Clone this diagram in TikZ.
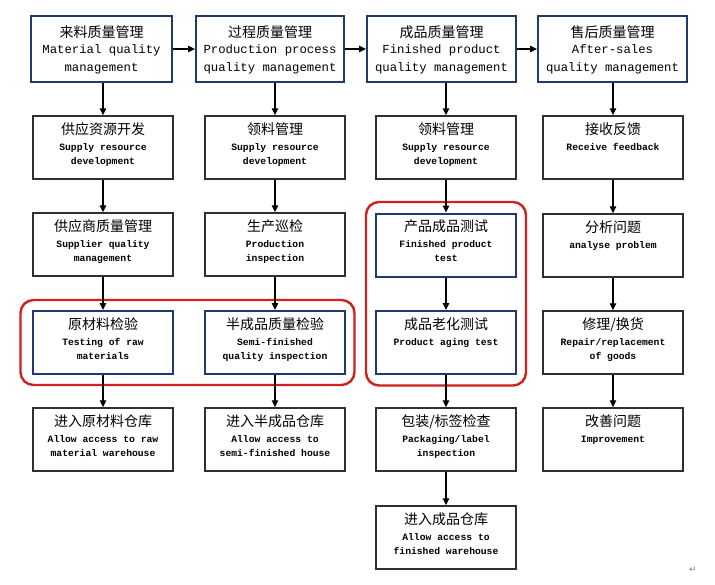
\documentclass[tikz,border=0pt]{standalone}
\usepackage{fontspec}
\setmainfont{Liberation Serif}
\newfontfamily\cjk{Noto Sans CJK SC}
\newfontfamily\en{Liberation Mono}
\newfontfamily\dv{DejaVu Sans}
\usetikzlibrary{arrows.meta,fit}
\definecolor{navy}{HTML}{1F3A6E}
\definecolor{redline}{HTML}{D02020}
\definecolor{boxline}{HTML}{303030}
\newcommand\toptext[3][140pt]{\begin{minipage}[c][66pt][t]{#1}\centering\lineskiplimit=-100pt
{\cjk\fontsize{14}{16}\selectfont\rule{0pt}{21pt}#2\par}\vspace{-1.5pt}
{\en\fontsize{12.3}{18}\selectfont #3\par}\end{minipage}}
\newcommand\rowtext[2]{\begin{minipage}[c][63pt][t]{136pt}\centering\lineskiplimit=-100pt
{\cjk\fontsize{14}{16}\selectfont\rule{0pt}{18pt}#1\par}\vspace{2pt}
{\en\bfseries\fontsize{9.7}{14.2}\selectfont #2\par}\end{minipage}}
\tikzset{
  topbox/.style={draw=navy, line width=2pt, inner sep=0pt, minimum height=66pt},
  bluebox/.style={draw=navy, line width=2pt, inner sep=0pt, minimum width=140pt, minimum height=63pt},
  plainbox/.style={draw=boxline, line width=1.5pt, inner sep=0pt, minimum width=140pt, minimum height=63pt},
  arr/.style={draw=black, line width=1.3pt, -{Triangle[length=7pt,width=6.5pt]}},
  redbox/.style={draw=redline, line width=2.4pt, rounded corners=13pt, inner sep=0pt}
}
\begin{document}
\begin{tikzpicture}[x=1pt,y=-1pt]
\fill[white] (0,0) rectangle (715,584);
\useasboundingbox (0,0) rectangle (715,584);
% top row
\node[topbox, minimum width=141pt] (t1) at (101.5,49) {\toptext[139pt]{来料质量管理}{Material quality\\management}};
\node[topbox, minimum width=148pt] (t2) at (270,49) {\toptext[146pt]{过程质量管理}{Production process\\quality management}};
\node[topbox, minimum width=149pt] (t3) at (441.5,49) {\toptext[146pt]{成品质量管理}{Finished product\\quality management}};
\node[topbox, minimum width=149pt] (t4) at (612.5,49) {\toptext[146pt]{售后质量管理}{After-sales\\quality management}};
% row 2
\node[plainbox] (a2) at (103,147.5) {\rowtext{供应资源开发}{Supply resource\\development}};
\node[plainbox] (b2) at (275,147.5) {\rowtext{领料管理}{Supply resource\\development}};
\node[plainbox] (c2) at (446,147.5) {\rowtext{领料管理}{Supply resource\\development}};
\node[plainbox] (d2) at (613,147.5) {\rowtext{接收反馈}{Receive feedback}};
% row 3
\node[plainbox] (a3) at (103,244.5) {\rowtext{供应商质量管理}{Supplier quality\\management}};
\node[plainbox] (b3) at (275,244.5) {\rowtext{生产巡检}{Production\\inspection}};
\node[bluebox] (c3) at (446,245) {\rowtext{产品成品测试}{Finished product\\test}};
\node[plainbox] (d3) at (613,245.5) {\rowtext{分析问题}{analyse problem}};
% row 4
\node[bluebox] (a4) at (103,342.5) {\rowtext{原材料检验}{Testing of raw\\materials}};
\node[bluebox] (b4) at (275,342.5) {\rowtext{半成品质量检验}{Semi-finished\\quality inspection}};
\node[bluebox] (c4) at (446,342.5) {\rowtext{成品老化测试}{Product aging test}};
\node[plainbox] (d4) at (613,342.5) {\rowtext{修理/换货}{Repair/replacement\\of goods}};
% row 5
\node[plainbox] (a5) at (103,439.5) {\rowtext{进入原材料仓库}{Allow access to raw\\material warehouse}};
\node[plainbox] (b5) at (275,439.5) {\rowtext{进入半成品仓库}{Allow access to\\semi-finished house}};
\node[plainbox] (c5) at (446,439.5) {\rowtext{包装/标签检查}{Packaging/label\\inspection}};
\node[plainbox] (d5) at (613,439.5) {\rowtext{改善问题}{Improvement}};
% row 6
\node[plainbox] (c6) at (446,537.5) {\rowtext{进入成品仓库}{Allow access to\\finished warehouse}};
% red frames
\node[redbox, fit=(a4)(b4), inner xsep=10pt, inner ysep=10pt, xshift=-1.5pt] (r1) {};
\node[redbox, fit=(c3)(c4), inner xsep=9pt, inner ysep=10.5pt] (r2) {};
% paragraph mark
\node[text=gray, font=\dv\fontsize{9}{10}\selectfont, inner sep=0pt] (pm) at (693,570) {↵};
% horizontal arrows
\draw[arr] (t1.east) -- (t2.west);
\draw[arr] (t2.east) -- (t3.west);
\draw[arr] (t3.east) -- (t4.west);
% vertical arrows
\draw[arr] (t1.south -| a2) -- (a2.north);
\draw[arr] (t2.south -| b2) -- (b2.north);
\draw[arr] (t3.south -| c2) -- (c2.north);
\draw[arr] (t4.south -| d2) -- (d2.north);
\draw[arr] (a2) -- (a3);
\draw[arr] (a3) -- (a4);
\draw[arr] (a4) -- (a5);
\draw[arr] (b2) -- (b3);
\draw[arr] (b3) -- (b4);
\draw[arr] (b4) -- (b5);
\draw[arr] (c2) -- (c3);
\draw[arr] (c3) -- (c4);
\draw[arr] (c4) -- (c5);
\draw[arr] (c5) -- (c6);
\draw[arr] (d2) -- (d3);
\draw[arr] (d3) -- (d4);
\draw[arr] (d4) -- (d5);
\end{tikzpicture}
\end{document}
